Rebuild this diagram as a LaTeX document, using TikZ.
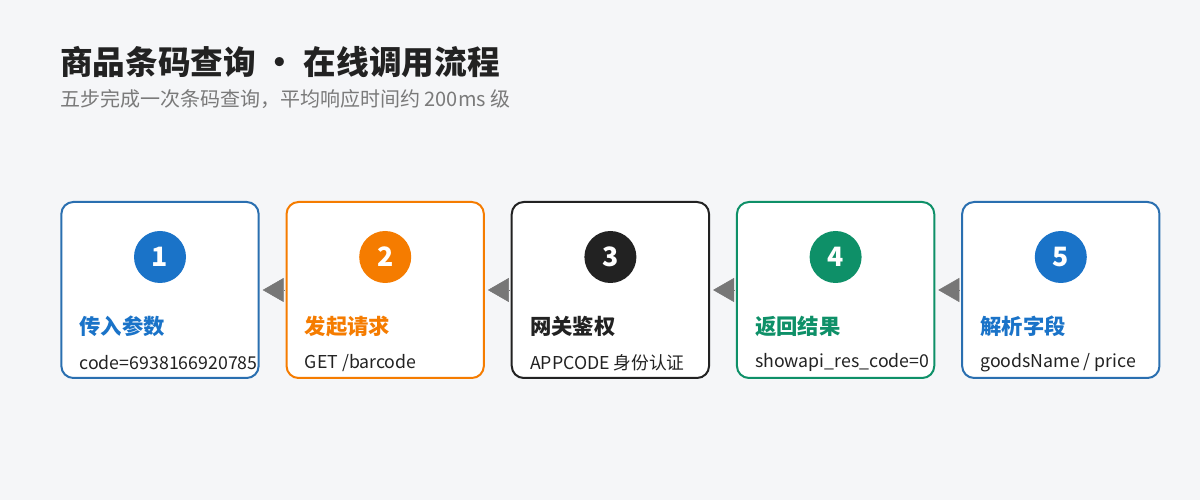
\documentclass[tikz,border=0pt]{standalone}
\usepackage{fontspec}
\setmainfont{Noto Sans CJK SC}
\usetikzlibrary{positioning,arrows.meta}

\definecolor{pagebg}{HTML}{F5F6F8}
\definecolor{cblue}{HTML}{1A73C8}
\definecolor{cbluebd}{HTML}{2A6FB0}
\definecolor{corange}{HTML}{F57C00}
\definecolor{cdark}{HTML}{222222}
\definecolor{cgreen}{HTML}{0E9068}
\definecolor{ctext}{HTML}{222222}
\definecolor{csub}{HTML}{7A7A7A}
\definecolor{carrow}{HTML}{777777}

\tikzset{
  stepbox/.style={draw, fill=white, line width=1.5pt, rounded corners=9pt,
    minimum width=148pt, minimum height=132pt, inner sep=0pt},
  num/.style={circle, minimum size=39pt, inner sep=0pt, text=white,
    font=\bfseries\fontsize{20}{20}\selectfont},
  steptitle/.style={anchor=west, inner sep=0pt, font=\bfseries\fontsize{16}{16}\selectfont},
  stepnote/.style={anchor=west, inner sep=0pt, text=ctext, font=\fontsize{13.3}{13.3}\selectfont},
  arr/.style={carrow, line width=0.4pt, -{Triangle[length=15.75pt, width=18pt]},
    shorten >=2.25pt, shorten <=0.75pt}
}

\begin{document}
\begin{tikzpicture}[x=0.75pt, y=0.75pt]
    \fill[pagebg] (0,0) rectangle (1200,500);
    \useasboundingbox (0,0) rectangle (1200,500);

    % title
    \node[anchor=west, inner sep=0pt, text=ctext, font=\bfseries\fontsize{24.5}{24.5}\selectfont]
      (title) at (60,438) {商品条码查询 • 在线调用流程};
    \node[anchor=west, inner sep=0pt, text=csub, font=\fontsize{15}{15}\selectfont]
      (subtitle) at (60,401) {五步完成一次条码查询，平均响应时间约 200ms 级};

    % boxes
    \node[stepbox, draw=cbluebd] (s1) at (160,210) {};
    \node[stepbox, draw=corange, right=19.4pt of s1] (s2) {};
    \node[stepbox, draw=cdark, right=19.4pt of s2] (s3) {};
    \node[stepbox, draw=cgreen, right=19.4pt of s3] (s4) {};
    \node[stepbox, draw=cbluebd, right=19.4pt of s4] (s5) {};

    % numbers
    \node[num, fill=cblue] (n1) at ([yshift=-42pt] s1.north) {1};
    \node[num, fill=corange] (n2) at ([yshift=-42pt] s2.north) {2};
    \node[num, fill=cdark] (n3) at ([yshift=-42pt] s3.north) {3};
    \node[num, fill=cgreen] (n4) at ([yshift=-42pt] s4.north) {4};
    \node[num, fill=cblue] (n5) at ([yshift=-42pt] s5.north) {5};

    % titles
    \node[steptitle, text=cblue] (t1) at ([xshift=14.25pt, yshift=-27pt] s1.west) {传入参数};
    \node[steptitle, text=corange] (t2) at ([xshift=14.25pt, yshift=-27pt] s2.west) {发起请求};
    \node[steptitle, text=cdark] (t3) at ([xshift=14.25pt, yshift=-27pt] s3.west) {网关鉴权};
    \node[steptitle, text=cgreen] (t4) at ([xshift=14.25pt, yshift=-27pt] s4.west) {返回结果};
    \node[steptitle, text=cblue] (t5) at ([xshift=14.25pt, yshift=-27pt] s5.west) {解析字段};

    % notes
    \node[stepnote] (d1) at ([xshift=14.25pt, yshift=-54.5pt] s1.west) {code=6938166920785};
    \node[stepnote] (d2) at ([xshift=14.25pt, yshift=-54.5pt] s2.west) {GET /barcode};
    \node[stepnote] (d3) at ([xshift=14.25pt, yshift=-54.5pt] s3.west) {APPCODE 身份认证};
    \node[stepnote] (d4) at ([xshift=14.25pt, yshift=-54.5pt] s4.west) {showapi\_res\_code=0};
    \node[stepnote] (d5) at ([xshift=14.25pt, yshift=-54.5pt] s5.west) {goodsName / price};

    % connectors
    \draw[arr] (s2.west) -- (s1.east);
    \draw[arr] (s3.west) -- (s2.east);
    \draw[arr] (s4.west) -- (s3.east);
    \draw[arr] (s5.west) -- (s4.east);
\end{tikzpicture}
\end{document}
